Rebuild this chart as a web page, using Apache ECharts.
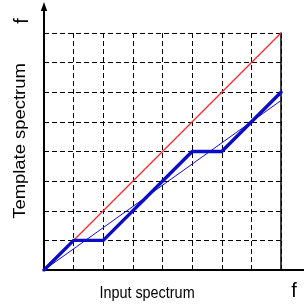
<!DOCTYPE html>
<html>
<head>
<meta charset="utf-8">
<script src="https://cdn.jsdelivr.net/npm/echarts@6/dist/echarts.min.js"></script>
<style>
  html, body { margin: 0; padding: 0; background: #fff; }
  #spectrumChart { width: 304px; height: 307px; }
</style>
</head>
<body>
<div id="spectrumChart"></div>
<script>
"use strict";

/*****Data start*****/
var axisMin = 0;
var axisMax = 8;
var axisStep = 1;

// red: identity line
var identityX = [0, 8];
var identityY = [0, 8];

// thin blue: straight fit
var linearX = [0, 8];
var linearY = [0, 5.72];

// thick blue: warped path
var warpX = [0, 1, 2, 5, 6, 8];
var warpY = [0, 1, 1, 4, 4, 6];

var xTitle = 'Input spectrum';
var yTitle = 'Template spectrum';
var endLabel = 'f';
/*****Data end*****/

var toPairs = function(xs, ys) {
	return xs.map(function(x, i) { return [x, ys[i]]; });
};

var chart = echarts.init(document.getElementById('spectrumChart'));

var gridLine = {
	show: true,
	lineStyle: { color: '#000', width: 1, type: [5, 3] }
};

var option = {
	animation: false,
	grid: { left: 44, top: 33, width: 237, height: 237 },
	xAxis: {
		type: 'value',
		min: axisMin,
		max: axisMax,
		interval: axisStep,
		axisLine: { show: true, lineStyle: { color: '#000', width: 2 } },
		axisTick: { show: false },
		axisLabel: { show: false },
		splitLine: gridLine
	},
	yAxis: [
		{
			type: 'value',
			min: axisMin,
			max: axisMax,
			interval: axisStep,
			axisLine: { show: true, lineStyle: { color: '#000', width: 2 } },
			axisTick: { show: false },
			axisLabel: { show: false },
			splitLine: gridLine
		},
		{
			type: 'value',
			position: 'right',
			min: axisMin,
			max: axisMax,
			axisLine: { show: true, lineStyle: { color: '#000', width: 1.5 } },
			axisTick: { show: false },
			axisLabel: { show: false },
			splitLine: { show: false }
		}
	],
	series: [
		{
			name: 'identity',
			type: 'line',
			symbol: 'none',
			data: toPairs(identityX, identityY),
			lineStyle: { color: 'rgb(255,40,40)', width: 1.3 },
			z: 4
		},
		{
			name: 'linear',
			type: 'line',
			symbol: 'none',
			data: toPairs(linearX, linearY),
			lineStyle: { color: '#1010cc', width: 1 },
			z: 4
		},
		{
			name: 'warp',
			type: 'line',
			symbol: 'none',
			data: toPairs(warpX, warpY),
			lineStyle: { color: '#0c0cc4', width: 3.4, join: 'round', cap: 'round' },
			z: 5
		}
	]
};

chart.setOption(option);

/*****Axis extensions and titles*****/
var origin = chart.convertToPixel({ gridIndex: 0 }, [axisMin, axisMin]);
var yTop = chart.convertToPixel({ gridIndex: 0 }, [axisMin, axisMax]);
var xEnd = chart.convertToPixel({ gridIndex: 0 }, [axisMax, axisMin]);

chart.setOption({
	graphic: [
		{
			type: 'line',
			shape: { x1: yTop[0], y1: yTop[1], x2: yTop[0], y2: 9 },
			style: { stroke: '#000', lineWidth: 2 }
		},
		{
			type: 'polygon',
			shape: { points: [[yTop[0], 2], [yTop[0] - 3.2, 11], [yTop[0] + 3.2, 11]] },
			style: { fill: '#000' }
		},
		{
			type: 'line',
			shape: { x1: xEnd[0], y1: origin[1], x2: 312, y2: origin[1] },
			style: { stroke: '#000', lineWidth: 2 }
		},
		{
			type: 'text',
			x: 147, y: 294,
			scaleX: 0.9,
			style: {
				text: xTitle, fontFamily: 'Liberation Sans', fontSize: 16,
				fill: '#000', align: 'center', verticalAlign: 'middle'
			}
		},
		{
			type: 'text',
			x: 21, y: 141,
			rotation: Math.PI / 2,
			scaleX: 1.15,
			style: {
				text: yTitle, fontFamily: 'Liberation Sans', fontSize: 16,
				fill: '#000', align: 'center', verticalAlign: 'middle'
			}
		},
		{
			type: 'text',
			x: 294, y: 291,
			style: {
				text: endLabel, fontFamily: 'Liberation Sans', fontSize: 20,
				fill: '#000', align: 'center', verticalAlign: 'middle'
			}
		},
		{
			type: 'text',
			x: 22, y: 21,
			rotation: Math.PI / 2,
			style: {
				text: endLabel, fontFamily: 'Liberation Sans', fontSize: 20,
				fill: '#000', align: 'center', verticalAlign: 'middle'
			}
		}
	]
});
</script>
</body>
</html>
